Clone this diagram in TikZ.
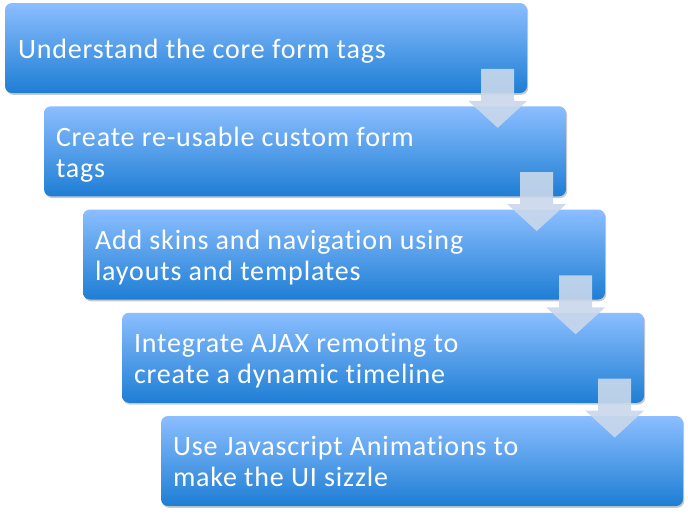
\documentclass[tikz,border=0pt]{standalone}
\usepackage{fontspec}
\setmainfont{Carlito}[LetterSpace=3, Ligatures={NoCommon}]
\usetikzlibrary{calc,shadows}
\definecolor{boxtop}{RGB}{139,190,255}
\definecolor{boxbot}{RGB}{30,126,212}
\definecolor{arrowc}{RGB}{202,216,235}
\tikzset{
  stepbox/.style={rectangle, rounded corners=7pt, minimum width=522pt, minimum height=90pt,
    inner sep=0pt, top color=boxtop, bottom color=boxbot, draw=none,
    drop shadow={shadow xshift=1.2pt, shadow yshift=-1.8pt, opacity=0.35, fill=black!60}},
  steptext/.style={anchor=base west, inner sep=0pt, align=left, text=white,
    font=\fontsize{28}{31}\selectfont},
  downarrow/.style={fill=arrowc, fill opacity=0.9, draw=none}
}
\begin{document}
\begin{tikzpicture}[x=1pt,y=-1pt]
\useasboundingbox[fill=white] (0,0) rectangle (688,514);
\foreach \i in {1,...,5}{
  \node[stepbox] (b\i) at ({266+39*(\i-1)}, {48+103.25*(\i-1)}) {};
}
\node[steptext] (t1) at ($(b1.north west)+(13,55.5)$) {Understand the core form tags};
\node[steptext] (t2) at ($(b2.north west)+(12,71)$) {Create re-usable custom form\\tags};
\node[steptext] (t3) at ($(b3.north west)+(12,71)$) {Add skins and navigation using\\layouts and templates};
\node[steptext] (t4) at ($(b4.north west)+(12,71)$) {Integrate AJAX remoting to\\create a dynamic timeline};
\node[steptext] (t5) at ($(b5.north west)+(12,71)$) {Use Javascript Animations to\\make the UI sizzle};
\foreach \i in {1,...,4}{
  \fill[downarrow]
    ($(b\i.north east)+(-46,66)$) -- ($(b\i.north east)+(-13,66)$)
    -- ($(b\i.north east)+(-13,98)$) -- ($(b\i.north east)+(0,98)$)
    -- ($(b\i.north east)+(-29.5,125)$) -- ($(b\i.north east)+(-59,98)$)
    -- ($(b\i.north east)+(-46,98)$) -- cycle;
}
\end{tikzpicture}
\end{document}
